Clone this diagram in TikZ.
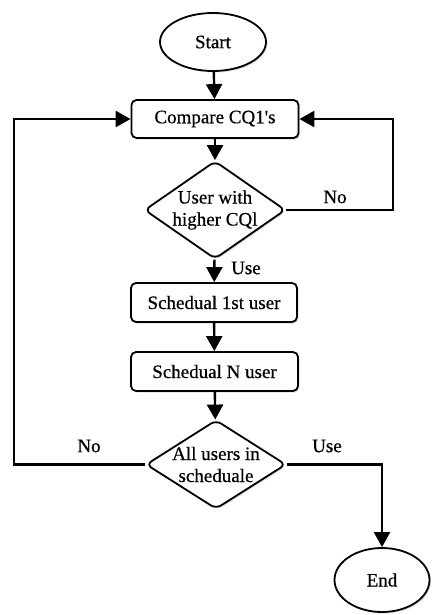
\documentclass[tikz,border=0pt]{standalone}
\usepackage{fontspec}
\setmainfont{Liberation Serif}[FakeBold=0.5,Ligatures=TeXOff]
\usetikzlibrary{shapes.geometric,arrows.meta,shadows}
\begin{document}
\begin{tikzpicture}[x=1pt,y=-1pt,
  font=\fontsize{19}{22}\selectfont,
  shp/.style={draw=black,line width=1.8pt,fill=white,inner sep=0pt,align=center,
    drop shadow={shadow xshift=1.5pt,shadow yshift=-1.5pt,opacity=0.25}},
  term/.style={shp,ellipse},
  proc/.style={shp,rectangle,rounded corners=5pt},
  dec/.style={shp,diamond,rounded corners=6pt,inner sep=-9pt},
  conn/.style={line width=2.4pt,-{Triangle[width=16pt,length=15pt]}},
  lbl/.style={inner sep=0pt}]
\useasboundingbox (0,0) rectangle (433,615);
\node[term,minimum width=106pt,minimum height=58pt] (start) at (213,42) {Start};
\node[proc,minimum width=167pt,minimum height=38pt] (cmp) at (215,119) {Compare CQ1's};
\node[dec,minimum width=141pt,minimum height=98pt] (d1) at (215,210) {User with\\higher CQl};
\node[proc,minimum width=166pt,minimum height=39pt] (s1) at (214,302.5) {Schedual 1st user};
\node[proc,minimum width=167pt,minimum height=39pt] (sn) at (214.5,371.5) {Schedual N user};
\node[dec,minimum width=140pt,minimum height=89pt] (d2) at (216,464.5) {All users in\\scheduale};
\node[term,minimum width=95pt,minimum height=64pt] (end) at (382,580) {End};
\coordinate (rt) at (393,210);
\coordinate (lt) at (14,464.5);
\draw[conn] (start) -- (cmp);
\draw[conn] (cmp) -- (d1);
\draw[conn] (d1) -- (s1);
\draw[conn] (s1) -- (sn);
\draw[conn] (sn) -- (d2);
\draw[conn] (d1.east) -- (rt) |- (cmp.east);
\draw[conn] (d2.west) -- (lt) |- (cmp.west);
\draw[conn] (d2.east) -| (end.north);
\node[lbl] (no1) at (335,197) {No};
\node[lbl] (use1) at (246,268) {Use};
\node[lbl] (no2) at (89,446) {No};
\node[lbl] (use2) at (327,446) {Use};
\end{tikzpicture}
\end{document}
